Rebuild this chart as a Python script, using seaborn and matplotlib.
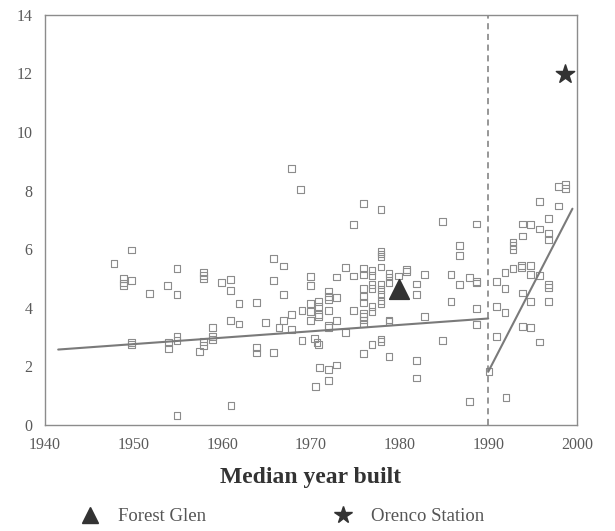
import matplotlib
matplotlib.use("Agg")
import matplotlib.pyplot as plt
from matplotlib.lines import Line2D
import seaborn as sns
import pandas as pd

# ---- data ----
years = [
    1949.8, 1947.8, 1948.9, 1948.9, 1948.9, 1949.8, 1954.9, 1953.8, 1954.9, 1951.8,
    1957.9, 1957.9, 1957.9, 1959.9, 1960.9, 1960.9, 1961.9, 1960.9, 1961.9, 1958.9,
    1949.8, 1949.8, 1953.9, 1953.9, 1954.9, 1954.9, 1957.9, 1957.9, 1957.4, 1958.9,
    1958.9, 1961.0, 1954.9,
    1967.8, 1968.8, 1975.9, 1974.8, 1965.8, 1966.9, 1965.8, 1966.9, 1963.9, 1964.9,
    1966.9, 1966.4, 1967.8, 1967.8, 1969.0, 1970.0, 1970.0, 1970.0, 1970.0, 1970.0,
    1970.9, 1970.9, 1970.9, 1970.9, 1972.0, 1972.0, 1972.0, 1972.0, 1972.0, 1972.0,
    1972.9, 1972.9, 1972.9, 1973.9, 1974.8, 1974.8, 1973.9,
    1975.9, 1975.9, 1975.9, 1975.9, 1975.9, 1975.9, 1975.9, 1975.9, 1975.9, 1975.9,
    1969.0, 1970.4, 1970.7, 1970.9, 1963.9, 1963.9, 1965.8, 1971.0, 1972.0, 1972.9,
    1972.0, 1970.5,
    1977.9, 1984.8, 1988.7, 1986.8, 1986.8, 1977.9, 1977.9, 1977.9, 1976.9, 1976.9,
    1977.9, 1978.8, 1978.8, 1979.9, 1980.8, 1980.8, 1982.8, 1985.8, 1987.9, 1988.7,
    1988.7, 1986.8, 1981.9, 1981.9, 1976.9, 1976.9, 1977.9, 1977.9, 1977.9, 1977.9,
    1977.9, 1978.8, 1978.8, 1982.8, 1988.7, 1988.7, 1985.8, 1976.9, 1976.9, 1977.9,
    1977.9, 1976.9, 1978.8, 1984.8, 1981.9, 1981.9, 1987.9, 1978.8,
    1990.1, 1992.0, 1990.9, 1990.9, 1990.9, 1991.9, 1991.9, 1991.9, 1992.8, 1992.8,
    1992.8, 1992.8, 1993.8, 1993.8, 1993.9, 1994.8, 1993.9, 1994.8, 1994.8, 1993.9,
    1994.8, 1993.9, 1994.8, 1995.8, 1995.8, 1995.8, 1995.8, 1996.8, 1996.8, 1996.8,
    1996.8, 1996.8, 1996.8, 1997.9, 1998.7, 1998.7, 1997.9,
]
values = [
    5.97, 5.50, 4.99, 4.84, 4.76, 4.94, 5.34, 4.76, 4.45, 4.49,
    5.19, 5.10, 5.01, 4.87, 4.97, 4.58, 4.13, 3.55, 3.44, 3.33,
    2.82, 2.73, 2.82, 2.61, 3.01, 2.89, 2.84, 2.71, 2.50, 3.01,
    2.91, 0.67, 0.33,
    8.76, 8.04, 7.56, 6.85, 5.67, 5.42, 4.92, 4.46, 4.18, 3.50,
    3.56, 3.32, 3.25, 3.77, 3.89, 4.13, 3.86, 3.55, 5.07, 4.76,
    4.22, 4.03, 3.78, 3.69, 4.57, 4.37, 4.29, 3.90, 3.40, 3.33,
    5.05, 4.34, 3.56, 5.37, 5.08, 3.91, 3.15,
    5.33, 5.14, 4.65, 4.37, 4.18, 3.80, 3.69, 3.58, 3.44, 2.44,
    2.89, 2.95, 2.82, 2.73, 2.65, 2.45, 2.47, 1.96, 1.88, 2.04,
    1.50, 1.32,
    7.34, 6.93, 6.86, 6.12, 5.78, 5.92, 5.83, 5.75, 5.27, 5.10,
    5.39, 5.18, 5.05, 5.08, 5.31, 5.24, 5.12, 5.13, 5.02, 4.90,
    4.84, 4.78, 4.81, 4.44, 4.78, 4.65, 4.80, 4.63, 4.46, 4.25,
    4.14, 3.58, 3.52, 3.69, 3.97, 3.43, 4.20, 4.03, 3.86, 2.93,
    2.84, 2.73, 2.32, 2.87, 2.20, 1.60, 0.79, 4.86,
    1.81, 0.92, 3.02, 4.04, 4.90, 4.65, 5.20, 3.83, 5.35, 6.24,
    6.12, 5.98, 5.37, 5.43, 6.86, 6.84, 6.45, 5.43, 5.12, 4.50,
    4.22, 3.35, 3.31, 7.62, 6.69, 5.10, 2.83, 7.05, 6.52, 6.34,
    4.79, 4.70, 4.20, 8.15, 8.22, 8.07, 7.47,
]

# fitted segments (endpoints)
fit1_x = [1941.5, 1990.0]
fit1_y = [2.57, 3.63]
fit2_x = [1990.0, 1999.5]
fit2_y = [1.81, 7.38]

break_year = 1990
forest_glen = (1979.9, 4.65)
orenco_station = (1998.7, 11.97)

x_ticks = [1940, 1950, 1960, 1970, 1980, 1990, 2000]
y_ticks = [0, 2, 4, 6, 8, 10, 12, 14]
x_label = "Median year built"

# ---- drawing ----
sns.set_theme(style="white")
plt.rcParams["font.family"] = ["Liberation Serif", "DejaVu Serif"]

fig = plt.figure(figsize=(6.15, 5.31), dpi=100)
ax = fig.add_axes([0.073, 0.2, 0.865, 0.772])

gray = "#8c8c8c"
linegray = "#7a7a7a"

df = pd.DataFrame({"year": years, "value": values})
sns.scatterplot(data=df, x="year", y="value", ax=ax, marker="s", s=24,
                facecolor="none", edgecolor=gray, linewidth=0.8, legend=False)

f1 = pd.DataFrame({"x": fit1_x, "y": fit1_y})
f2 = pd.DataFrame({"x": fit2_x, "y": fit2_y})
sns.lineplot(data=f1, x="x", y="y", ax=ax, color=linegray, linewidth=1.5)
sns.lineplot(data=f2, x="x", y="y", ax=ax, color=linegray, linewidth=1.5)

ax.axvline(break_year, color=linegray, linewidth=1.1, linestyle=(0, (4, 3)))

sns.scatterplot(x=[forest_glen[0]], y=[forest_glen[1]], ax=ax, marker="^",
                s=200, color="#333333", edgecolor="#333333", legend=False, zorder=5)
sns.scatterplot(x=[orenco_station[0]], y=[orenco_station[1]], ax=ax, marker="*",
                s=190, color="#333333", edgecolor="#333333", legend=False, zorder=5)

ax.set_xlim(1940, 2000)
ax.set_ylim(0, 14)
ax.set_xticks(x_ticks)
ax.set_yticks(y_ticks)
ax.set_xlabel(x_label, fontsize=17, fontweight="bold", color="#333333", labelpad=10)
ax.set_ylabel("")
ax.tick_params(axis="both", direction="out", length=4, width=0.8, color=gray,
               labelsize=11.5, labelcolor="#5a5a5a", pad=5)

for sp in ax.spines.values():
    sp.set_color(gray)
    sp.set_linewidth(1.0)

handles = [
    Line2D([], [], marker="^", linestyle="none", markersize=12,
           color="#333333", label="Forest Glen"),
    Line2D([], [], marker="*", linestyle="none", markersize=13,
           color="#333333", label="Orenco Station"),
]
leg = fig.legend(handles=handles, loc="center", bbox_to_anchor=(0.452, 0.027),
                 ncol=2, frameon=False, fontsize=13.5, columnspacing=6.3,
                 handletextpad=0.5, labelcolor="#555555")

fig.savefig("out.png", dpi=100, facecolor="white")
